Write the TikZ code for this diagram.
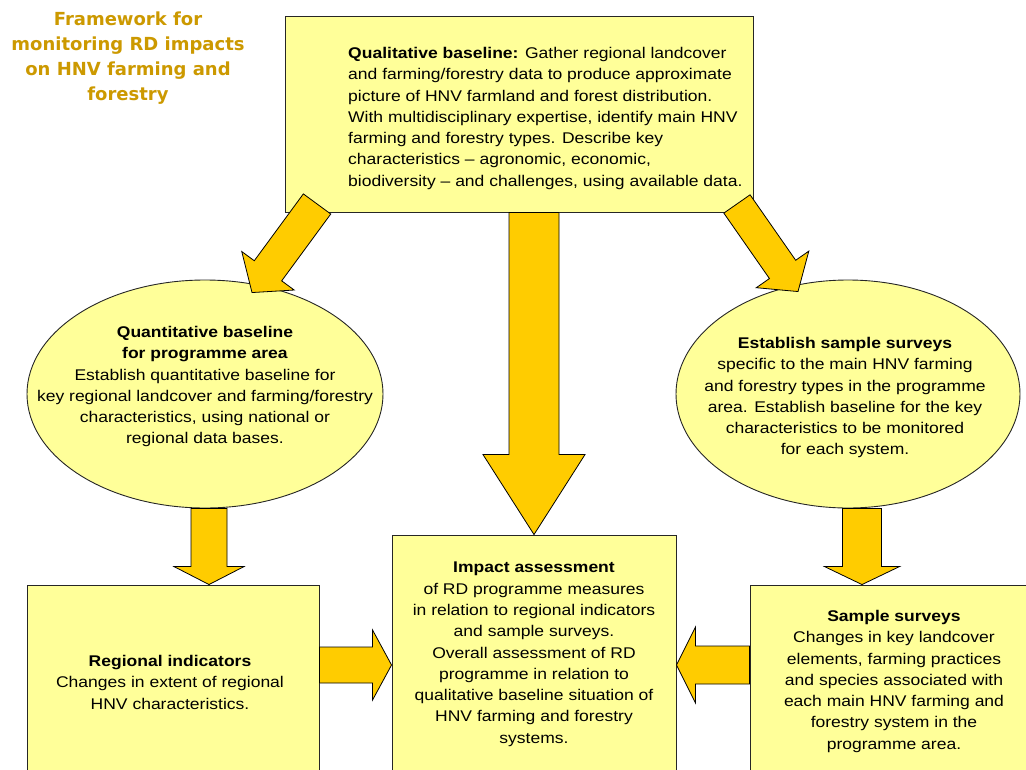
\documentclass[tikz,border=0pt]{standalone}
\usepackage{fontspec}
\setmainfont{Liberation Sans}[FakeStretch=1.13]
\newfontfamily\titlefont{DejaVu Sans}
\usetikzlibrary{shapes.geometric,calc}
\definecolor{boxyellow}{RGB}{255,255,153}
\definecolor{arrowgold}{RGB}{255,204,0}
\definecolor{titlegold}{RGB}{204,153,0}
\newcommand{\bodyfont}{\fontsize{15.5}{21.3}\selectfont}
% block arrow: start, tip, half shaft, half head, head length
\newcommand{\blockarrow}[5]{%
\coordinate (ba) at ($(#2)!#5!(#1)$);
\filldraw[arrow style block] ($(#1)!#3!90:(#2)$) -- ($(ba)!#3!-90:(#1)$)%
-- ($(ba)!#4!-90:(#1)$) -- (#2) -- ($(ba)!#4!90:(#1)$)%
-- ($(ba)!#3!90:(#1)$) -- ($(#1)!#3!-90:(#2)$) -- cycle;}
\tikzset{
    node style box/.style={draw=black!85,line width=0.9pt,fill=boxyellow,rectangle,inner sep=0},
    node style ell/.style={draw=black!85,line width=0.9pt,fill=boxyellow,ellipse,inner sep=0},
    node style txt/.style={align=center,inner sep=0,anchor=north,font=\bodyfont},
    node style title/.style={align=center,inner sep=0,anchor=north,text=titlegold,%
        font=\titlefont\bfseries\fontsize{18}{25}\selectfont},
    arrow style block/.style={draw=black,line width=0.8pt,fill=arrowgold,line join=miter},
}

\begin{document}
\begin{tikzpicture}[x=1pt,y=-1pt]
\useasboundingbox (0,0) rectangle (1026,769);
\clip (0,0) rectangle (1026,769);
% titre
\node[node style title] (title) at (128,12)
{Framework for\\monitoring RD impacts\\on HNV farming and\\forestry};
% les boites
\node[node style box,minimum width=468pt,minimum height=196pt] (qual) at (519,114) {};
\node[node style ell,minimum width=356pt,minimum height=228pt] (quant) at (205,394) {};
\node[node style ell,minimum width=344pt,minimum height=228pt] (estab) at (848,394) {};
\node[node style box,minimum width=292pt,minimum height=210pt] (regind) at (173,690) {};
\node[node style box,minimum width=284pt,minimum height=260pt] (impact) at (534,665) {};
\node[node style box,minimum width=290pt,minimum height=210pt] (sample) at (895,690) {};
% les textes
\node[node style txt,align=left,anchor=north west] (qual-txt) at (348,47)
{\textbf{Qualitative baseline:} Gather regional landcover\\
and farming/forestry data to produce approximate\\
picture of HNV farmland and forest distribution.\\
With multidisciplinary expertise, identify main HNV\\
farming and forestry types. Describe key\\
characteristics -- agronomic, economic,\\
biodiversity -- and challenges, using available data.};
\node[node style txt] (quant-txt) at (205,326)
{\textbf{Quantitative baseline}\\
\textbf{for programme area}\\
Establish quantitative baseline for\\
key regional landcover and farming/forestry\\
characteristics, using national or\\
regional data bases.};
\node[node style txt] (estab-txt) at (845,337)
{\textbf{Establish sample surveys}\\
specific to the main HNV farming\\
and forestry types in the programme\\
area. Establish baseline for the key\\
characteristics to be monitored\\
for each system.};
\node[node style txt] (regind-txt) at (170,655)
{\textbf{Regional indicators}\\
Changes in extent of regional\\
HNV characteristics.};
\node[node style txt] (impact-txt) at (534,562)
{\textbf{Impact assessment}\\
of RD programme measures\\
in relation to regional indicators\\
and sample surveys.\\
Overall assessment of RD\\
programme in relation to\\
qualitative baseline situation of\\
HNV farming and forestry\\
systems.};
\node[node style txt] (sample-txt) at (894,610)
{\textbf{Sample surveys}\\
Changes in key landcover\\
elements, farming practices\\
and species associated with\\
each main HNV farming and\\
forestry system in the\\
programme area.};
% les fleches
\coordinate (c-mid) at (qual.south -| impact.north);
\blockarrow{c-mid}{impact.north}{25pt}{51pt}{80pt}
\coordinate (c-ql) at ($(qual.south west)+(32.5,-8.5)$);
\coordinate (c-qt) at ($(quant.north)+(47,13)$);
\blockarrow{c-ql}{c-qt}{17pt}{32.5pt}{27pt}
\coordinate (c-qr) at ($(qual.south east)+(-16.5,-8.5)$);
\coordinate (c-et) at ($(estab.north)+(-50,12)$);
\blockarrow{c-qr}{c-et}{16pt}{32pt}{27pt}
\coordinate (c-qs) at ($(quant.south)+(4,0)$);
\coordinate (c-ri) at (c-qs |- regind.north);
\blockarrow{c-qs}{c-ri}{18pt}{35pt}{18pt}
\coordinate (c-es) at ($(estab.south)+(14,0)$);
\coordinate (c-sa) at (c-es |- sample.north);
\blockarrow{c-es}{c-sa}{19.5pt}{37.5pt}{18pt}
\coordinate (c-re) at (regind.east |- impact.west);
\blockarrow{c-re}{impact.west}{18pt}{35pt}{19pt}
\coordinate (c-se) at (sample.west |- impact.east);
\blockarrow{c-se}{impact.east}{19pt}{38pt}{19pt}

\end{tikzpicture}
\end{document}
